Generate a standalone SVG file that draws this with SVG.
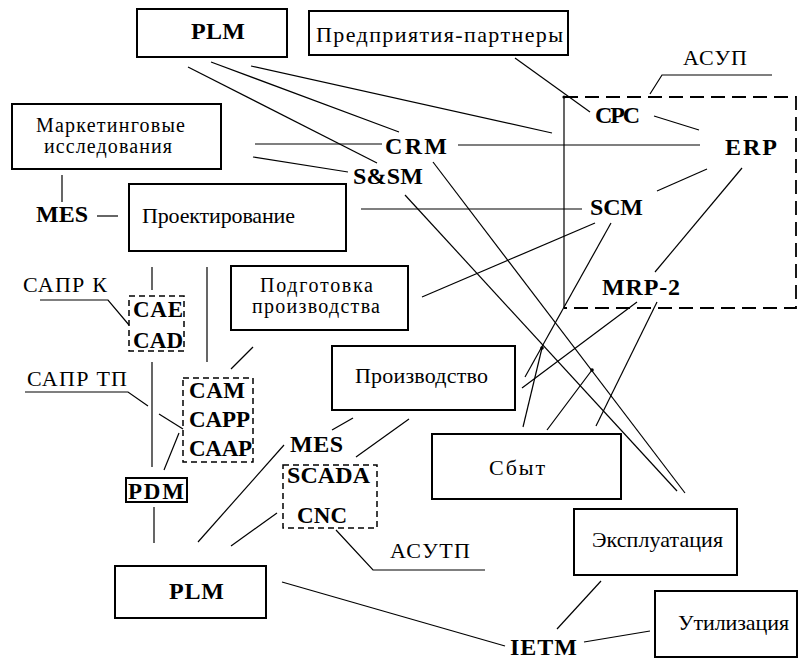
<svg xmlns="http://www.w3.org/2000/svg" width="800" height="659" viewBox="0 0 800 659" font-family="'Liberation Serif', 'Times New Roman', 'DejaVu Serif', serif">
<style>
  text { font-family: "Liberation Serif", "Times New Roman", "DejaVu Serif", serif; fill: #000; }
  .n { font-size: 22px; }
  .s { font-size: 20px; }
  .b { font-size: 24px; font-weight: bold; }
  .c { font-size: 23px; font-weight: bold; }
  .box { fill: #fff; stroke: #000; stroke-width: 2; }
  .dbox { fill: none; stroke: #000; stroke-width: 1.5; stroke-dasharray: 6 4; }
  .ln { stroke: #000; stroke-width: 1.2; fill: none; }
  .dot { fill: #000; }
</style>
<rect width="800" height="659" fill="#fff"/>

<g id="connectors">
  <line class="ln" x1="188" y1="67" x2="377" y2="163"/>
  <line class="ln" x1="211" y1="62" x2="399" y2="132"/>
  <line class="ln" x1="251" y1="66" x2="552" y2="133"/>
  <line class="ln" x1="255" y1="144" x2="382" y2="144"/>
  <line class="ln" x1="253" y1="157" x2="348" y2="172"/>
  <line class="ln" x1="62" y1="175" x2="62" y2="202"/>
  <line class="ln" x1="97" y1="216" x2="118" y2="216"/>
  <line class="ln" x1="458" y1="145" x2="700" y2="145"/>
  <line class="ln" x1="433" y1="162" x2="685" y2="493"/>
  <line class="ln" x1="405" y1="195" x2="677" y2="491"/>
  <line class="ln" x1="515" y1="58" x2="590" y2="112"/>
  <line class="ln" x1="654" y1="116" x2="699" y2="130"/>
  <line class="ln" x1="707" y1="169" x2="657" y2="191"/>
  <line class="ln" x1="742" y1="168" x2="655" y2="272"/>
  <line class="ln" x1="361" y1="209" x2="582" y2="209"/>
  <line class="ln" x1="595" y1="223" x2="422" y2="297"/>
  <line class="ln" x1="611" y1="223" x2="525" y2="377"/>
  <line class="ln" x1="637" y1="302" x2="522" y2="388"/>
  <line class="ln" x1="657" y1="302" x2="596" y2="426"/>
  <line class="ln" x1="542" y1="348" x2="523" y2="427"/>
  <line class="ln" x1="592" y1="370" x2="547" y2="430"/>
  <line class="ln" x1="152" y1="267" x2="152" y2="290"/>
  <line class="ln" x1="207" y1="267" x2="207" y2="362"/>
  <line class="ln" x1="152" y1="362" x2="152" y2="467"/>
  <line class="ln" x1="154" y1="507" x2="154" y2="543"/>
  <line class="ln" x1="179" y1="433" x2="164" y2="470"/>
  <line class="ln" x1="253" y1="347" x2="231" y2="369"/>
  <line class="ln" x1="353" y1="418" x2="332" y2="430"/>
  <line class="ln" x1="409" y1="419" x2="356" y2="457"/>
  <line class="ln" x1="284" y1="445" x2="198" y2="542"/>
  <line class="ln" x1="277" y1="513" x2="231" y2="546"/>
  <line class="ln" x1="282" y1="582" x2="505" y2="646"/>
  <line class="ln" x1="601" y1="581" x2="557" y2="629"/>
  <line class="ln" x1="650" y1="631" x2="584" y2="642"/>
  <circle class="dot" cx="564" cy="97" r="1.6"/>
  <circle class="dot" cx="542" cy="348" r="1.8"/>
  <circle class="dot" cx="592" cy="370" r="1.8"/>
</g>

<g id="asup">
  <line class="ln" x1="564" y1="97" x2="564" y2="308" stroke-width="1.5"/>
  <path d="M564 97 H796 V308 H564" fill="none" stroke="#000" stroke-width="1.8" stroke-dasharray="14 7"/>
  <text class="n" x="683" y="65" textLength="64">АСУП</text>
  <polyline class="ln" points="772,75 662,75 650,94"/>
</g>

<g id="plm-top">
  <rect class="box" x="137" y="9" width="150" height="48"/>
  <text class="b" x="191" y="39" textLength="54">PLM</text>
</g>
<g id="partners">
  <rect class="box" x="309" y="11" width="259" height="44"/>
  <text class="n" x="316" y="42" textLength="247">Предприятия-партнеры</text>
</g>
<g id="marketing">
  <rect class="box" x="12" y="104" width="209" height="65"/>
  <text class="s" x="36" y="132" textLength="149">Маркетинговые</text>
  <text class="s" x="44" y="153" textLength="128">исследования</text>
</g>
<g id="mes-left">
  <text class="b" x="36" y="222" textLength="52">MES</text>
</g>
<g id="design">
  <rect class="box" x="129" y="184" width="217" height="67"/>
  <text class="n" x="142" y="223" textLength="153">Проектирование</text>
</g>
<g id="crm"><text class="b" x="385" y="154" textLength="62">CRM</text></g>
<g id="ssm"><text class="b" x="353" y="184" textLength="70">S&amp;SM</text></g>
<g id="cpc"><text class="b" x="595" y="123" font-size="22" textLength="45">CPC</text></g>
<g id="erp"><text class="b" x="725" y="155" textLength="52">ERP</text></g>
<g id="scm"><text class="b" x="590" y="215" textLength="53">SCM</text></g>
<g id="mrp2"><text class="b" x="602" y="295" textLength="78">MRP-2</text></g>

<g id="sapr-k">
  <text class="n" x="23" y="292" textLength="84">САПР К</text>
  <polyline class="ln" points="40,300 108,300 129,325"/>
</g>
<g id="cae-cad">
  <rect class="dbox" x="129" y="296" width="55" height="55"/>
  <text class="c" x="133" y="317" textLength="50">CAE</text>
  <text class="c" x="133" y="348" textLength="50">CAD</text>
</g>
<g id="prep">
  <rect class="box" x="231" y="266" width="177" height="64"/>
  <text class="s" x="260" y="292" textLength="113">Подготовка</text>
  <text class="s" x="252" y="313" textLength="128">производства</text>
</g>
<g id="sapr-tp">
  <text class="n" x="27" y="386" textLength="100">САПР ТП</text>
  <polyline class="ln" points="25,392 128,392 148,406"/>
  <line class="ln" x1="159" y1="414" x2="183" y2="429"/>
</g>
<g id="cam-capp-caap">
  <rect class="dbox" x="183" y="378" width="70" height="84"/>
  <text class="c" x="189" y="398" textLength="56">CAM</text>
  <text class="c" x="189" y="427" textLength="61">CAPP</text>
  <text class="c" x="189" y="456" textLength="63">CAAP</text>
</g>
<g id="production">
  <rect class="box" x="332" y="346" width="183" height="64"/>
  <text class="n" x="355" y="383" textLength="133">Производство</text>
</g>
<g id="pdm">
  <rect x="126" y="478" width="61" height="24" fill="#fff" stroke="#000" stroke-width="2"/>
  <text class="c" x="128" y="499" textLength="56">PDM</text>
</g>
<g id="mes-bottom"><text class="b" x="290" y="452" textLength="53">MES</text></g>
<g id="scada-cnc">
  <rect class="dbox" x="283" y="465" width="94" height="63"/>
  <text class="b" x="287" y="483" textLength="83">SCADA</text>
  <text class="c" x="297" y="523" textLength="50">CNC</text>
</g>
<g id="asutp">
  <text class="n" x="390" y="558" textLength="80">АСУТП</text>
  <polyline class="ln" points="336,530 373,570 485,570"/>
</g>
<g id="sbyt">
  <rect class="box" x="432" y="434" width="189" height="65"/>
  <text class="n" x="489" y="475" textLength="56">Сбыт</text>
</g>
<g id="exploitation">
  <rect class="box" x="574" y="509" width="163" height="66"/>
  <text class="n" x="592" y="547" textLength="131">Эксплуатация</text>
</g>
<g id="utilization">
  <rect class="box" x="655" y="591" width="142" height="66"/>
  <text class="n" x="678" y="630" textLength="111">Утилизация</text>
</g>
<g id="plm-bottom">
  <rect class="box" x="115" y="566" width="151" height="52"/>
  <text class="b" x="169" y="599" textLength="55">PLM</text>
</g>
<g id="ietm"><text class="b" x="510" y="655" textLength="67">IETM</text></g>
</svg>
